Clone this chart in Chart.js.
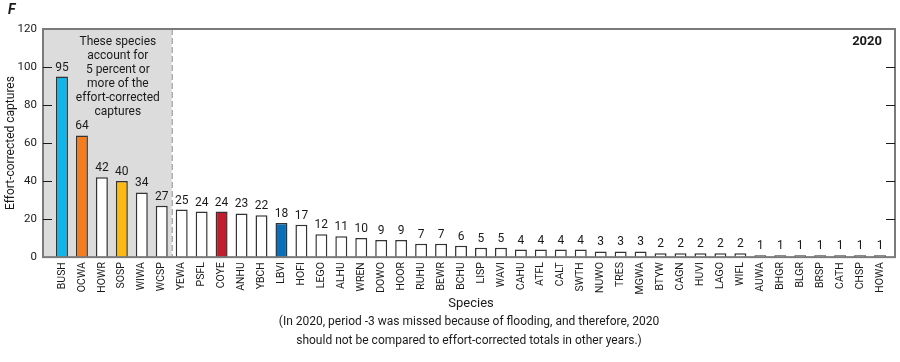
<!DOCTYPE html>
<html>
<head>
<meta charset="utf-8">
<script src="https://cdn.jsdelivr.net/npm/chart.js@4/dist/chart.umd.min.js"></script>
<style>
  html, body { margin: 0; padding: 0; background: #fff; }
  #wrap { width: 900px; height: 362px; position: relative; }
</style>
</head>
<body>
<div id="wrap"><canvas id="chart"></canvas></div>
<script>
// Species codes, 2020 effort-corrected captures
const species = ['BUSH', 'OCWA', 'HOWR', 'SOSP', 'WIWA', 'WCSP', 'YEWA', 'PSFL', 'COYE', 'ANHU',
  'YBCH', 'LBVI', 'HOFI', 'LEGO', 'ALHU', 'WREN', 'DOWO', 'HOOR', 'RUHU', 'BEWR', 'BCHU',
  'LISP', 'WAVI', 'CAHU', 'ATFL', 'CALT', 'SWTH', 'NUWO', 'TRES', 'MGWA', 'BTYW', 'CAGN',
  'HUVI', 'LAGO', 'WIFL', 'AUWA', 'BHGR', 'BLGR', 'BRSP', 'CATH', 'CHSP', 'HOWA'];
const captures = [95, 64, 42, 40, 34, 27, 25, 24, 24, 23, 22, 18, 17, 12, 11, 10, 9, 9, 7, 7, 6,
  5, 5, 4, 4, 4, 4, 3, 3, 3, 2, 2, 2, 2, 2, 1, 1, 1, 1, 1, 1, 1];
const yTicks = [0, 20, 40, 60, 80, 100, 120];
const highlight = { BUSH: '#12b5e8', OCWA: '#f47d20', SOSP: '#fdb913', COYE: '#be1e2d', LBVI: '#0b6fb7' };
const topCount = 6; // species at 5 percent or more
const boxNote = ['These species', 'account for', '5 percent or', 'more of the', 'effort-corrected', 'captures'];
const footNote = ['(In 2020, period -3 was missed because of flooding, and therefore, 2020',
  'should not be compared to effort-corrected totals in other years.)'];

const FONT = "Roboto, 'Liberation Sans', sans-serif";
const FRAME = '#7a7a7a';
const INK = '#1a1a1a';

// frame, shaded box, ticks and texts
const decor = {
  id: 'decor',
  beforeDatasetsDraw(chart) {
    const { ctx, chartArea: a, scales: { x } } = chart;
    const left = a.left - 9;
    const split = (x.getPixelForValue(topCount - 1) + x.getPixelForValue(topCount)) / 2;
    ctx.save();
    ctx.fillStyle = '#dcdcdd';
    ctx.fillRect(left, a.top, split - left, a.bottom - a.top);
    ctx.strokeStyle = '#8a8a8a';
    ctx.lineWidth = 1;
    ctx.setLineDash([6, 3]);
    ctx.beginPath();
    ctx.moveTo(split + 0.5, a.top);
    ctx.lineTo(split + 0.5, a.bottom);
    ctx.stroke();
    ctx.setLineDash([]);

    ctx.fillStyle = INK;
    ctx.font = '12px ' + FONT;
    ctx.textAlign = 'center';
    ctx.textBaseline = 'middle';
    const cx = x.getPixelForValue(2.8);
    boxNote.forEach((t, i) => ctx.fillText(t, cx, a.top + 13 + i * 14));
    ctx.restore();
  },
  afterDatasetsDraw(chart) {
    const { ctx, chartArea: a, scales: { y } } = chart;
    const left = a.left - 9, right = a.right + 5;
    ctx.save();
    // frame
    ctx.strokeStyle = FRAME;
    ctx.lineWidth = 2;
    ctx.strokeRect(left, a.top, right - left, a.bottom - a.top);
    // inward ticks on both sides
    ctx.strokeStyle = INK;
    ctx.lineWidth = 1.2;
    yTicks.forEach(v => {
      if (v === 0 || v === 120) return;
      const py = Math.round(y.getPixelForValue(v)) + 0.5;
      ctx.beginPath();
      ctx.moveTo(left, py); ctx.lineTo(left + 9, py);
      ctx.moveTo(right, py); ctx.lineTo(right - 9, py);
      ctx.stroke();
    });
    // value labels
    ctx.fillStyle = INK;
    ctx.font = '12px ' + FONT;
    ctx.textAlign = 'center';
    ctx.textBaseline = 'bottom';
    chart.getDatasetMeta(0).data.forEach((bar, i) => {
      ctx.fillText(String(captures[i]), bar.x, bar.y - 3);
    });
    // year label
    ctx.font = 'bold 13px ' + FONT;
    ctx.textAlign = 'right';
    ctx.textBaseline = 'middle';
    ctx.fillText('2020', right - 13, a.top + 13);
    // panel letter
    ctx.font = 'italic bold 14px ' + FONT;
    ctx.textAlign = 'left';
    ctx.fillText('F', 8, 10);
    // foot note
    ctx.font = '12px ' + FONT;
    ctx.textAlign = 'center';
    const mid = (left + right) / 2;
    ctx.fillText(footNote[0], mid, chart.height - 40);
    ctx.fillText(footNote[1], mid, chart.height - 21);
    ctx.restore();
  }
};

new Chart(document.getElementById('chart'), {
  type: 'bar',
  data: {
    labels: species,
    datasets: [{
      data: captures,
      backgroundColor: species.map(s => highlight[s] || '#ffffff'),
      borderColor: '#333333',
      borderWidth: 1.5,
      borderSkipped: 'bottom',
      barPercentage: 0.6,
      categoryPercentage: 1.0
    }]
  },
  options: {
    responsive: true,
    maintainAspectRatio: false,
    animation: false,
    layout: { padding: { top: 29, right: 10, bottom: 50, left: 3.5 } },
    plugins: {
      legend: { display: false },
      tooltip: { enabled: false }
    },
    scales: {
      x: {
        afterFit(scale) { scale.paddingLeft = 0; scale.paddingRight = 0; },
        grid: { display: false, drawTicks: false },
        border: { display: false },
        ticks: {
          color: INK,
          font: { family: FONT, size: 10.5 },
          maxRotation: 90,
          minRotation: 90,
          autoSkip: false,
          padding: 5
        },
        title: {
          display: true,
          text: 'Species',
          color: INK,
          font: { family: FONT, size: 13 },
          padding: { top: -3, bottom: 0 }
        }
      },
      y: {
        min: 0,
        max: 120,
        afterBuildTicks(axis) { axis.ticks = yTicks.map(v => ({ value: v })); },
        afterFit(scale) { scale.width = 48.5; },
        grid: { display: false, drawTicks: false },
        border: { display: false },
        ticks: {
          color: INK,
          font: { family: FONT, size: 11.5 },
          padding: 15
        },
        title: {
          display: true,
          text: 'Effort-corrected captures',
          color: INK,
          font: { family: FONT, size: 12 },
          padding: { top: 0, bottom: 0 }
        }
      }
    }
  },
  plugins: [decor]
});
</script>
</body>
</html>
